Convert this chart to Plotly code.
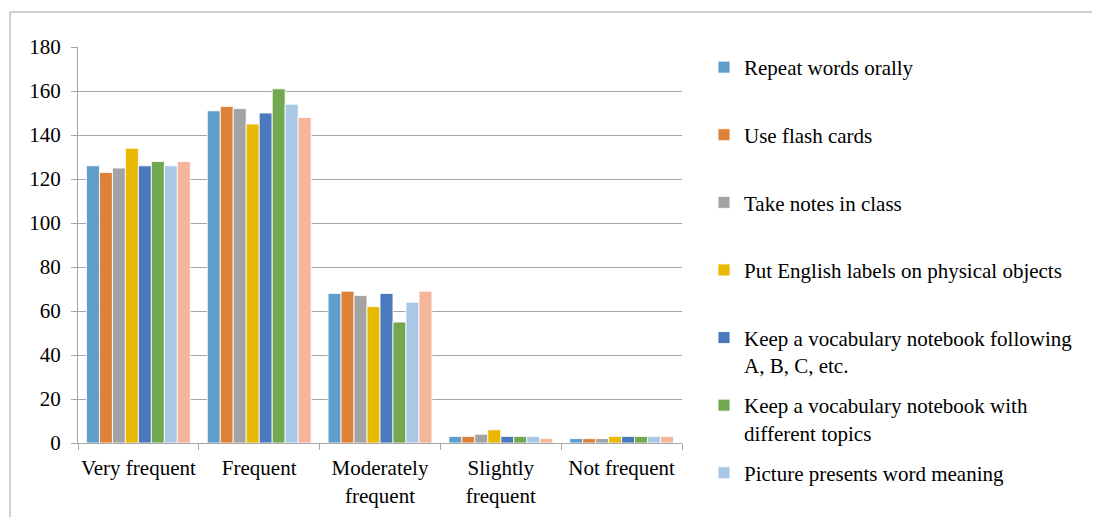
import plotly.graph_objects as go

categories = ["Very frequent", "Frequent", "Moderately<br>frequent", "Slightly<br>frequent", "Not frequent"]

series_names = [
    "Repeat words orally",
    "Use flash cards",
    "Take notes in class",
    "Put English labels on physical objects",
    "Keep a vocabulary notebook following<br>A, B, C, etc.",
    "Keep a vocabulary notebook with<br>different topics",
    "Picture presents word meaning",
    "Series 8",
]

repeat_orally = [126, 151, 68, 3, 2]
flash_cards = [123, 153, 69, 3, 2]
take_notes = [125, 152, 67, 4, 2]
english_labels = [134, 145, 62, 6, 3]
notebook_abc = [126, 150, 68, 3, 3]
notebook_topics = [128, 161, 55, 3, 3]
picture_meaning = [126, 154, 64, 3, 3]
series8 = [128, 148, 69, 2, 3]

values = [repeat_orally, flash_cards, take_notes, english_labels,
          notebook_abc, notebook_topics, picture_meaning, series8]

colors = ["#5F9DCB", "#DD8238", "#A3A3A3", "#E9B800",
          "#4A7ABD", "#72A84F", "#A9C8E6", "#F4B59B"]

y_ticks = [0, 20, 40, 60, 80, 100, 120, 140, 160, 180]

fig = go.Figure()
n_legend = 7
for i, (name, vals, col) in enumerate(zip(series_names, values, colors)):
    shown = i < n_legend
    label = name
    if "<br>" not in name and i < n_legend - 1:
        label = name + "<br> "
    fig.add_trace(go.Bar(
        x=categories, y=vals, name=label,
        marker=dict(color=col, line=dict(color="rgba(255,255,255,0.85)", width=1)),
        legendgroup="g%d" % i,
        showlegend=shown,
    ))

font_family = '"Liberation Serif", "Times New Roman", serif'

# page body has an 8px margin; figure coordinates = screen coordinates - 8
OFF = 8
W, H = 1100, 517
plot_l, plot_r, plot_t, plot_b = 78 - OFF, 682 - OFF, 47 - OFF, 443 - OFF
pw, ph = plot_r - plot_l, plot_b - plot_t

fig.update_layout(
    width=W, height=H,
    margin=dict(l=plot_l, r=W - plot_r, t=plot_t, b=H - plot_b, autoexpand=False),
    paper_bgcolor="white", plot_bgcolor="white",
    barmode="group", bargap=0.14, bargroupgap=0,
    font=dict(family=font_family, size=21, color="#000000"),
    legend=dict(
        xref="container", yref="container",
        x=(704 - OFF) / W, xanchor="left", y=1 - (47 - OFF) / H, yanchor="top",
        font=dict(family=font_family, size=21, color="#000000"),
        valign="top", tracegroupgap=10, itemwidth=30,
        bgcolor="rgba(0,0,0,0)",
    ),
    xaxis=dict(
        showline=True, linecolor="#A6A6A6", linewidth=1,
        ticks="outside", tickson="boundaries", ticklen=6, tickcolor="#A6A6A6",
        ticklabelstandoff=6,
        tickangle=0, showgrid=False, automargin=False,
    ),
    yaxis=dict(
        range=[0, 180], tickvals=y_ticks,
        showline=True, linecolor="#A6A6A6", linewidth=1,
        ticks="outside", ticklen=6, tickcolor="#A6A6A6",
        ticklabelstandoff=6,
        showgrid=True, gridcolor="#A6A6A6", gridwidth=1,
        zeroline=False, automargin=False,
    ),
    showlegend=True,
)
try:
    fig.update_layout(legend_maxheight=H)
except Exception:
    pass

fig.add_shape(type="rect", xref="paper", yref="paper",
              x0=(10 - 78) / pw, x1=(1120 - 78) / pw,
              y0=(443 - 540) / ph, y1=(443 - 12) / ph,
              line=dict(color="#A0A0A0", width=1), fillcolor="rgba(0,0,0,0)",
              layer="below")

fig.write_html("out.html")
